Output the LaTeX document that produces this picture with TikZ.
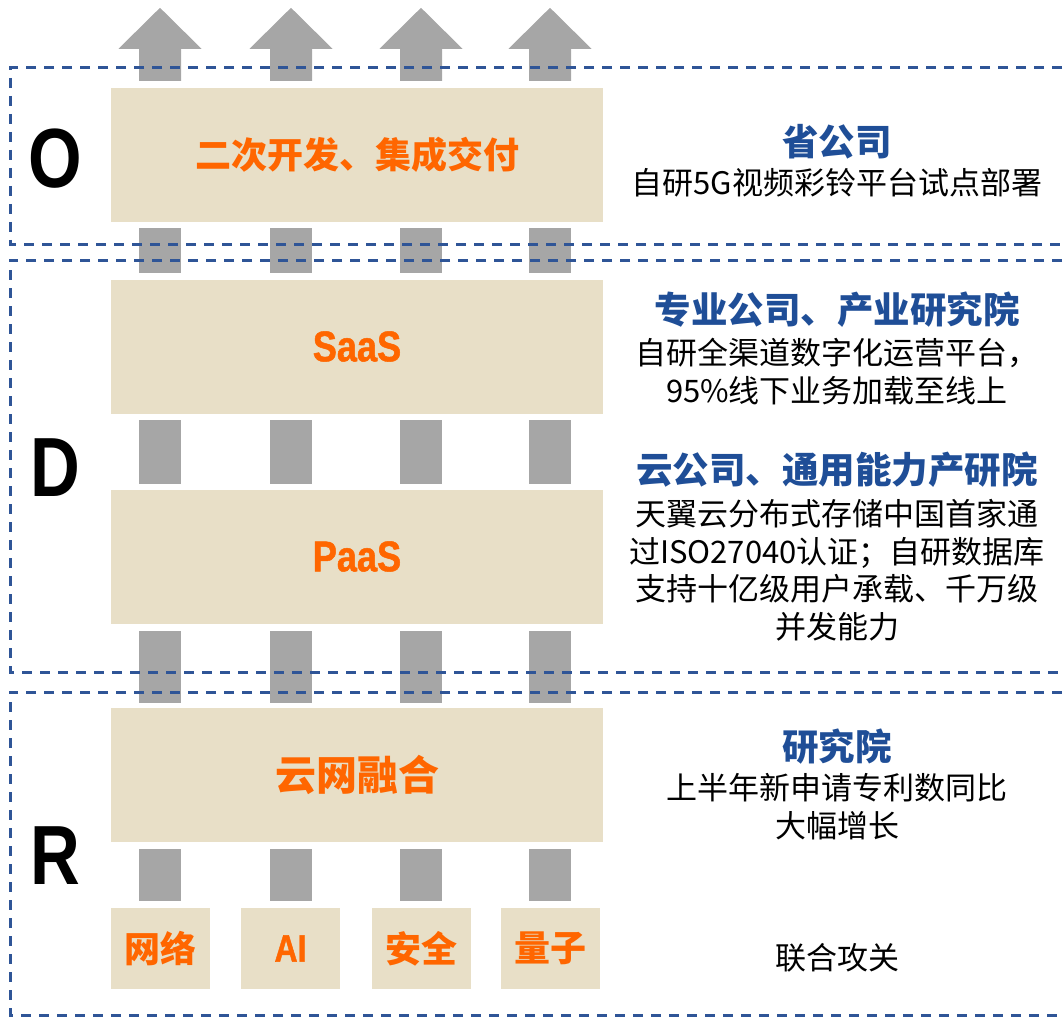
\documentclass[tikz,border=0pt]{standalone}
\usepackage{fontspec}
\newfontfamily\cjk{Noto Sans CJK SC}
\newfontfamily\narrowb[FakeStretch=0.82]{Liberation Sans Bold}
\newfontfamily\narrowbb[FakeStretch=0.84,FakeBold=1.2]{Liberation Sans Bold}
\definecolor{beige}{HTML}{E8DFC7}
\definecolor{og}{HTML}{FF6600}
\definecolor{hblue}{HTML}{1F4E97}
\definecolor{dblue}{HTML}{2F5597}
\definecolor{cgray}{HTML}{A6A6A6}
\begin{document}
\begin{tikzpicture}[x=1pt,y=-1pt,
  box/.style={fill=beige, draw=none, inner sep=0pt, minimum width=492pt, minimum height=134pt,
    text=og, font=\cjk\bfseries\fontsize{36}{36}\selectfont},
  latinbox/.style={box, font=\narrowbb\fontsize{43}{43}\selectfont},
  sbox/.style={box, minimum width=99pt, minimum height=81pt},
  conn/.style={fill=cgray},
  lane/.style={draw=dblue, line width=3pt, dash pattern=on 10pt off 8pt},
  big/.style={font=\narrowb\fontsize{84}{84}\selectfont, inner sep=0pt},
  head/.style={text=hblue, font=\cjk\bfseries\fontsize{36.5}{36.5}\selectfont},
  body/.style={align=center, font=\cjk\fontsize{31}{37.5}\selectfont}]
\useasboundingbox (0,0) rectangle (1064,1016);
\clip (0,0) rectangle (1064,1016);

% column coordinates
\foreach \cx [count=\i] in {160,291,421,550} { \coordinate (c\i) at (\cx,0); }

% layer boxes
\node[box] (O) at (357,155) {二次开发、集成交付};
\node[latinbox] (S) at (357,346.5) {SaaS};
\node[latinbox] (P) at (357,556.5) {PaaS};
\node[box, font=\cjk\bfseries\fontsize{41}{41}\selectfont] (Y) at (357,775) {云网融合};
\node[sbox] (n1) at (160.5,948.5) {网络};
\node[sbox, font=\narrowbb\fontsize{38}{38}\selectfont] (n2) at (290.5,948.5) {AI};
\node[sbox] (n3) at (421,948.5) {安全};
\node[sbox] (n4) at (550.5,948.5) {量子};

% connectors
\foreach \i in {1,...,4} {
  \fill[conn] ([xshift=-21pt,yshift=7pt]c\i |- n\i.north) rectangle ([xshift=21pt,yshift=-7pt]c\i |- Y.south);
  \fill[conn] ([xshift=-21pt,yshift=5pt]c\i |- Y.north) rectangle ([xshift=21pt,yshift=-7pt]c\i |- P.south);
  \fill[conn] ([xshift=-21pt,yshift=5pt]c\i |- P.north) rectangle ([xshift=21pt,yshift=-6pt]c\i |- S.south);
  \fill[conn] ([xshift=-21pt,yshift=6pt]c\i |- S.north) rectangle ([xshift=21pt,yshift=-6pt]c\i |- O.south);
  \fill[conn] ([xshift=-21pt,yshift=7pt]c\i |- O.north) -- ++(0,-32) -- ++(-20.5,0)
     -- ([yshift=80pt]c\i |- O.north) -- ++(41.5,41) -- ++(-20.5,0) -- ++(0,32) -- cycle;
}

% dashed lanes
\draw[lane] (1080,68) -- (10,68) -- (10,244) -- (1080,244);
\draw[lane] (1080,260) -- (10,260) -- (10,672) -- (1080,672);
\draw[lane] (1080,692) -- (10,692) -- (10,1015) -- (1080,1015);

% big letters
\node[big] (LO) at (55,159) {O};
\node[big] (LD) at (55,468) {D};
\node[big] (LR) at (55,856) {R};

% right texts
\node[head] (h1) at (837,142) {省公司};
\node[body] (b1) at (837,183) {自研5G视频彩铃平台试点部署};
\node[head] (h2) at (837,310) {专业公司、产业研究院};
\node[body] (b2) at (837,371.5) {自研全渠道数字化运营平台，\\95\%线下业务加载至线上};
\node[head] (h3) at (837,470) {云公司、通用能力产研院};
\node[body] (b3) at (837,570) {天翼云分布式存储中国首家通\\过ISO27040认证；自研数据库\\支持十亿级用户承载、千万级\\并发能力};
\node[head] (h4) at (837,747) {研究院};
\node[body] (b4) at (837,806.5) {上半年新申请专利数同比\\大幅增长};
\node[body] (b5) at (837,958) {联合攻关};
\end{tikzpicture}
\end{document}
